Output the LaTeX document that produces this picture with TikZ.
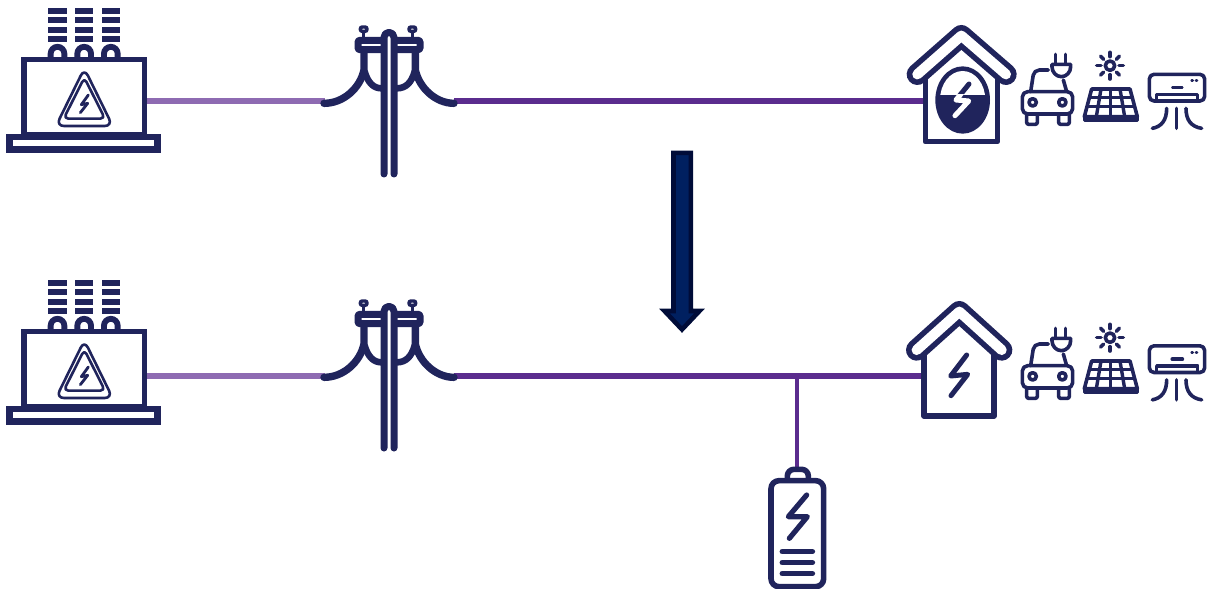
\documentclass[tikz,border=0pt]{standalone}
\usetikzlibrary{calc}
\definecolor{navy}{HTML}{20245C}
\definecolor{wireD}{HTML}{5B2C8E}
\definecolor{wireL}{HTML}{8E6BB2}
\definecolor{arrowF}{HTML}{002060}
\definecolor{arrowD}{HTML}{000C38}
\tikzset{
  x=.75pt,y=-.75pt,
  ic/.style={draw=navy,line width=#1*.75pt,line cap=round,line join=round},
  ic/.default=3,
  wirea/.style={draw=wireL,line width=4.2pt},
  wireb/.style={draw=wireD,line width=4.2pt},
  wirec/.style={draw=wireD,line width=2.6pt},
  zoomed/.style={shift={#1},scale=1/3},
}
\newcommand{\xformer}[1]{%
\begin{scope}[zoomed={#1}]
  \foreach \bx in {145,225,305}{
    \foreach \by in {24,52,82,108}{
      \fill[navy] (\bx,\by) rectangle ++(55,18);
    }
    \draw[navy,line width=4.4pt] (\bx+7,176) -- (\bx+7,161) arc[start angle=180,end angle=0,x radius=20.5,y radius=-20.5] -- (\bx+48,176);
  }
  \draw[navy,line width=4.2pt,fill=white] (72,179) rectangle (433,405);
  \draw[navy,line width=5pt,fill=white] (29,411) rectangle (473,449);
  \draw[ic=2.6,rounded corners=6pt] (253,205) -- (338,378) -- (168,378) -- cycle;
  \draw[ic=2.6,rounded corners=3.5pt] (253,233) -- (315,356) -- (191,356) -- cycle;
  \draw[ic=2.8] (265,285) -- (244,314) -- (263,310) -- (241,338);
\end{scope}}
\newcommand{\utilpole}[1]{%
\begin{scope}[zoomed={#1}]
  \foreach \ix in {161,307}{
    \draw[ic=3.4] (\ix,40) -- (\ix,56);
    \draw[navy,line width=2.6pt,fill=white,rounded corners=1.5pt] (\ix-10,21) rectangle (\ix+10,34);
  }
  \draw[ic=7,fill=white,rounded corners=1pt] (144,61) rectangle (330,89);
  \draw[ic=7.4] (162,95) -- (162,150) .. controls (150,205) and (100,250) .. (42,250);
  \draw[ic=7.4] (316,95) -- (316,150) .. controls (328,205) and (378,250) .. (432,250);
  \draw[ic=6.6] (164,155) .. controls (174,188) and (190,205) .. (215,205);
  \draw[ic=6.6] (314,155) .. controls (304,188) and (288,205) .. (260,205);
  \draw[ic=7,fill=white] (222,462) -- (222,52) arc[start angle=180,end angle=0,x radius=15,y radius=-15] -- (252,462);
  \draw[draw=white,line width=1.6pt] (237,55) -- (237,462);
\end{scope}}
\newcommand{\evcar}[1]{%
\begin{scope}[zoomed={#1}]
  \draw[ic=3.6,rounded corners=4pt] (367,297) -- (367,230) -- (518,230) -- (518,297) -- cycle;
  \draw[ic=3.6,rounded corners=4pt] (392,230) -- (402,165) -- (445,165);
  \draw[ic=3.6] (490,195) -- (500,230);
  \draw[ic=3.6] (398,262) circle[radius=11];
  \draw[ic=3.6] (487,262) circle[radius=11];
  \draw[ic=3.6,rounded corners=1.5pt] (380,297) -- (380,328) -- (412,328) -- (412,297);
  \draw[ic=3.6,rounded corners=1.5pt] (476,297) -- (476,328) -- (508,328) -- (508,297);
  \draw[ic=3.6] (467,118) -- (467,148);
  \draw[ic=3.6] (497,118) -- (497,148);
  \draw[ic=3.6,fill=white] (456,148) -- (512,148) -- (512,155) arc[start angle=0,end angle=180,x radius=28,y radius=30] -- cycle;
\end{scope}}
\newcommand{\solar}[1]{%
\begin{scope}[zoomed={#1}]
  \draw[ic=3.6] (630,152) circle[radius=14];
  \foreach \ra in {0,45,...,315}{
    \draw[ic=3.6] ($(630,152)+(\ra:27)$) -- ($(630,152)+(\ra:40)$);
  }
  \draw[ic=3.6] (575,222) -- (690,222) -- (712,305) -- (553,305) -- cycle;
  \draw[ic=3.6,fill=navy] (553,305) -- (553,316) -- (712,316) -- (712,305);
  \draw[ic=3.4] (570,248) -- (695,248);
  \draw[ic=3.4] (563,275) -- (702,275);
  \foreach \ta/\tb in {603/589,631/631,660/674}{
    \draw[ic=3.4] (\ta,222) -- (\tb,305);
  }
\end{scope}}
\newcommand{\aircon}[2]{%
\begin{scope}[zoomed={#1}]
  \draw[ic=3.6,rounded corners=3.5pt] (748,178) rectangle (914,258);
  \draw[ic=3.6] (770,252) -- (770,238) -- (893,238) -- (893,252);
  \draw[ic=#2] (817,218) -- (847,218);
  \draw[ic=2.8] (875,197) -- (878,197);
  \draw[ic=2.8] (888,197) -- (891,197);
  \draw[ic=3.6] (829,280) -- (829,340);
  \draw[ic=3.6] (800,280) .. controls (800,315) and (785,335) .. (757,340);
  \draw[ic=3.6] (858,280) .. controls (858,315) and (873,335) .. (905,340);
\end{scope}}
\begin{document}
\begin{tikzpicture}
  \useasboundingbox (0,0) rectangle (1214,589);
  % connector end points
  \coordinate (t1out) at (146,101);
  \coordinate (p1in) at (325,101);
  \coordinate (p1out) at (454,101);
  \coordinate (h1in) at (924,101);
  \coordinate (t2out) at (146,376);
  \coordinate (p2in) at (325,376);
  \coordinate (p2out) at (454,376);
  \coordinate (h2in) at (922,376);
  \coordinate (junction) at (797,376);
  \coordinate (batin) at (797,468);
  % connectors
  \draw[wirea] (t1out) -- (p1in);
  \draw[wireb] (p1out) -- (h1in);
  \draw[wirea] (t2out) -- (p2in);
  \draw[wireb] (p2out) -- (h2in);
  \draw[wirec] (junction) -- (batin);
  % top row
  \xformer{(0,0)}
  \utilpole{(310,20)}
  % top house with meter
  \begin{scope}[zoomed={(900,15)}]
    \draw[ic=5.6,fill=white] (76,170) -- (76,380) -- (292,380) -- (292,170);
    \draw[draw=navy,line width=16pt,line cap=round,line join=round] (52,178) -- (184,62) -- (318,178);
    \draw[draw=white,line width=7.6pt,line cap=round,line join=round] (52,178) -- (184,62) -- (318,178);
    \path[fill=navy] (188,255) ellipse[x radius=82,y radius=101];
    \begin{scope}
      \clip (100,150) rectangle (280,240);
      \path[fill=white] (188,255) ellipse[x radius=68,y radius=87];
      \draw[ic=5] (207,207) -- (168,255) -- (206,258) -- (165,302);
    \end{scope}
    \begin{scope}
      \clip (100,240) rectangle (280,360);
      \draw[draw=white,line width=3.8pt,line cap=round,line join=round] (207,207) -- (168,255) -- (206,258) -- (165,302);
    \end{scope}
  \end{scope}
  \evcar{(900,15)}
  \solar{(900,15)}
  \aircon{(900,15)}{2.6}
  % arrow
  \draw[draw=arrowD,fill=arrowF,line width=3.4pt,miter limit=10]
    (673.5,152.8) -- (690.8,152.8) -- (690.8,311) -- (699.5,311) -- (682,329.5) -- (664.5,311) -- (673.5,311) -- cycle;
  % bottom row
  \xformer{(0,272)}
  \utilpole{(310,294)}
  % bottom house
  \begin{scope}[zoomed={(900,295)}]
    \draw[ic=5.6,fill=white] (72,165) -- (72,363) -- (282,363) -- (282,165);
    \draw[draw=navy,line width=16pt,line cap=round,line join=round] (50,165) -- (178,50) -- (305,165);
    \draw[draw=white,line width=7.6pt,line cap=round,line join=round] (50,165) -- (178,50) -- (305,165);
    \draw[ic=5] (200,180) -- (152,243) -- (203,238) -- (153,302);
  \end{scope}
  \evcar{(900,289)}
  \solar{(900,287)}
  \aircon{(900,286.5)}{3.8}
  % battery
  \begin{scope}[zoomed={(750,460)}]
    \draw[ic=5.6,fill=white,rounded corners=5pt] (112,56) -- (112,28) -- (175,28) -- (175,56);
    \draw[ic=5.6,fill=white,rounded corners=6pt] (63,62) rectangle (221,380);
    \draw[ic=5.2] (170,105) -- (115,170) -- (172,170) -- (118,235);
    \draw[ic=5.6] (97,275) -- (187,275);
    \draw[ic=5.6] (97,308) -- (187,308);
    \draw[ic=5.6] (97,341) -- (187,341);
  \end{scope}
\end{tikzpicture}
\end{document}
